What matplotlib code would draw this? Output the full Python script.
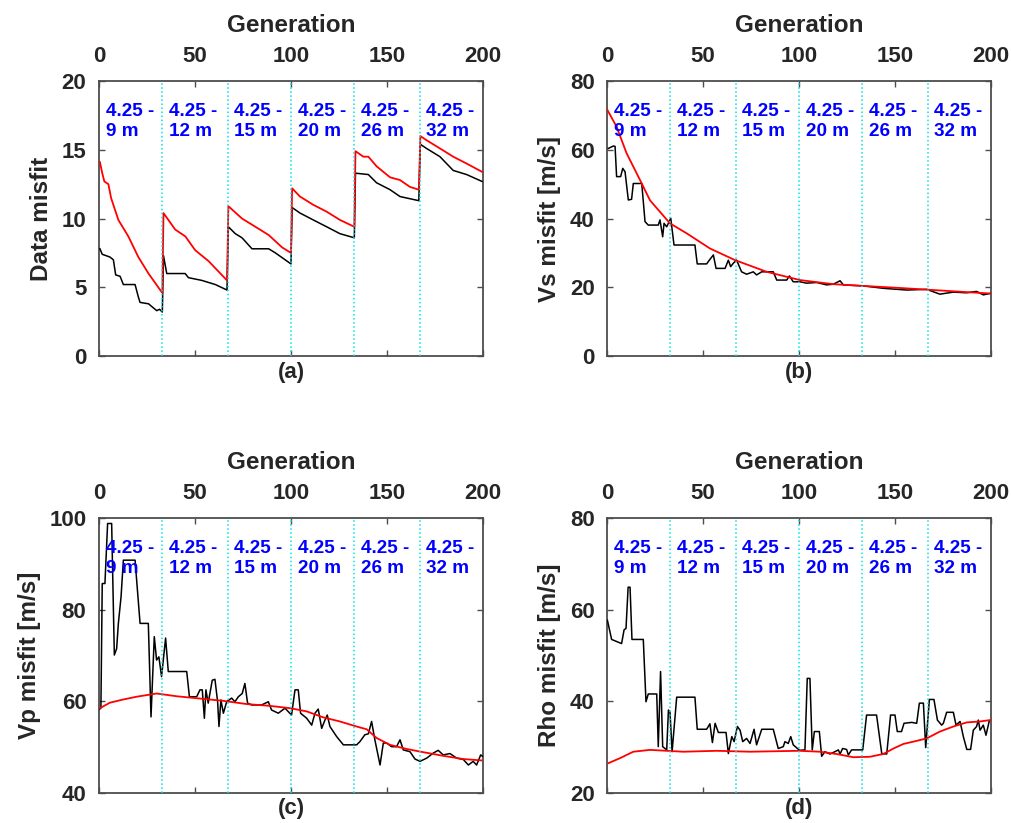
import matplotlib
matplotlib.use("Agg")
import matplotlib.pyplot as plt

plt.rcParams['font.family'] = ['Liberation Sans', 'DejaVu Sans']
plt.rcParams['font.weight'] = 'bold'

# boundaries between frequency stages (generation)
stage_gen = [0, 33, 67, 100, 133, 167]
stage_labels = ['4.25 -\n9 m', '4.25 -\n12 m', '4.25 -\n15 m',
                '4.25 -\n20 m', '4.25 -\n26 m', '4.25 -\n32 m']

# (a) data misfit
a_red_gen = [0.5, 1.7, 2.8, 4.9, 6.3, 10.1, 15.3, 20.5, 25.8, 31.9, 33.0,
             33.6, 39.7, 45.0, 50.1, 57.1, 66.7,
             67.4, 74.5, 81.5, 88.4, 95.4, 100.0,
             100.6, 104.7, 111.6, 118.6, 125.5, 133.0,
             133.6, 137.7, 140.3, 144.6, 151.6, 156.8, 162.0, 166.6,
             167.4, 170.6, 177.6, 184.5, 191.5, 199.5]
a_red_val = [14.1, 13.3, 12.7, 12.5, 11.5, 9.9, 8.7, 7.2, 6.0, 4.8, 4.6,
             10.4, 9.2, 8.7, 7.7, 6.9, 5.5,
             10.9, 10.0, 9.4, 8.8, 7.9, 7.5,
             12.2, 11.6, 11.0, 10.5, 9.9, 9.4,
             14.9, 14.5, 14.5, 13.8, 13.0, 12.8, 12.3, 12.1,
             16.0, 15.7, 15.1, 14.5, 14.0, 13.4]
a_blk_gen = [0.5, 1.7, 5.7, 7.5, 8.7, 11.0, 12.7, 18.8, 20.5, 21.4, 25.8, 27.5, 30.1, 31.5, 33.0,
             33.6, 35.3, 44.9, 46.6, 53.6, 60.6, 66.7,
             67.4, 71.0, 74.5, 79.7, 88.4, 91.9, 100.0,
             100.6, 104.7, 111.6, 118.6, 125.5, 133.0,
             133.6, 140.3, 144.6, 151.6, 156.8, 166.6,
             167.4, 170.6, 177.6, 184.5, 191.5, 199.5]
a_blk_val = [7.8, 7.4, 7.2, 7.0, 5.9, 5.8, 5.2, 5.2, 4.3, 3.9, 3.8, 3.6, 3.3, 3.4, 3.2,
             7.3, 6.0, 6.0, 5.7, 5.5, 5.2, 4.8,
             9.4, 8.9, 8.6, 7.8, 7.8, 7.5, 6.7,
             10.8, 10.4, 9.9, 9.4, 8.9, 8.6,
             13.3, 13.2, 12.6, 12.1, 11.6, 11.3,
             15.4, 15.1, 14.5, 13.5, 13.2, 12.7]

# (b) Vs misfit
b_red_gen = [0.2, 5.0, 10.2, 17.2, 22.4, 32.8, 41.5, 53.6, 66.7, 83.2, 100.5,
             117.9, 133.5, 152.6, 170.0, 187.3, 199.5]
b_red_val = [71.6, 66.7, 59.0, 51.2, 45.3, 38.6, 35.7, 31.3, 27.9, 24.5, 22.1,
             20.9, 20.4, 19.8, 19.2, 18.6, 18.2]
b_blk_gen = [0.7, 3.3, 4.2, 5.0, 7.1, 8.2, 9.4, 11.1, 12.8, 13.7, 18.1, 19.8, 21.5,
             26.7, 27.6, 29.0, 29.7, 31.1, 33.2, 34.9, 45.8, 47.0, 51.9, 53.3, 55.4,
             56.8, 61.5, 63.2, 64.4, 65.8, 67.5, 70.1, 72.7, 76.2, 77.9, 80.6, 86.6,
             88.4, 93.6, 95.0, 97.0, 100.5, 104.0, 109.2, 114.4, 117.9, 121.4, 123.1,
             133.5, 144.0, 156.1, 166.5, 173.4, 180.4, 187.3, 192.5, 196.0, 199.5]
b_blk_val = [60.4, 61.1, 61.0, 52.2, 52.2, 54.6, 53.6, 45.4, 45.6, 50.2, 50.2, 39.1, 38.1,
             38.1, 39.6, 34.7, 38.6, 37.6, 40.1, 32.3, 32.3, 26.8, 26.8, 27.9, 29.4,
             25.5, 25.5, 27.9, 26.0, 27.0, 27.9, 24.5, 23.8, 24.5, 23.6, 24.5, 24.5,
             22.1, 22.1, 23.3, 21.6, 21.6, 21.2, 21.4, 20.7, 20.9, 21.9, 20.7,
             20.4, 19.7, 19.2, 19.4, 18.0, 18.6, 18.4, 18.8, 17.8, 18.2]

# (c) Vp misfit
c_red_gen = [0.5, 5.7, 12.7, 19.6, 30.0, 40.5, 52.6, 64.8, 76.9, 89.1, 99.5, 108.2,
             116.8, 125.5, 134.2, 139.4, 144.6, 151.6, 160.2, 168.9, 179.3, 189.8, 199.3]
c_red_val = [58.5, 59.7, 60.4, 61.0, 61.7, 61.1, 60.6, 60.1, 59.4, 59.0, 58.5, 57.8,
             56.5, 55.6, 54.5, 53.9, 52.0, 50.5, 49.6, 48.9, 48.1, 47.4, 47.1]
c_blk_gen = [0.3, 1.0, 1.7, 3.1, 4.5, 6.6, 8.0, 9.2, 10.1, 11.5, 12.7, 18.8, 21.4, 25.7,
             27.1, 28.8, 30.0, 31.2, 32.6, 34.7, 36.1, 45.7, 47.1, 50.9, 52.6, 53.8,
             54.9, 55.7, 56.9, 59.0, 60.4, 61.8, 62.5, 63.5, 64.8, 66.5, 69.1, 70.8,
             72.6, 74.6, 76.0, 77.4, 79.5, 84.7, 88.2, 89.9, 93.4, 96.9, 100.3,
             102.1, 103.8, 105.0, 108.2, 110.8, 112.5, 114.2, 116.0, 117.7, 118.9,
             120.3, 123.8, 127.3, 134.2, 135.9, 138.5, 140.3, 142.0, 143.7, 146.4,
             148.1, 149.8, 152.4, 155.0, 156.8, 158.5, 162.0, 164.6, 167.2, 170.7,
             174.1, 176.7, 179.3, 182.8, 186.3, 189.8, 192.4, 194.9, 196.7, 198.8, 199.8]
c_blk_val = [58.3, 58.5, 85.7, 85.7, 98.8, 98.8, 70.1, 71.5, 77.0, 82.8, 90.8, 90.8, 77.0, 77.0,
             56.6, 74.1, 69.0, 69.7, 65.4, 73.8, 66.5, 66.5, 61.0, 61.0, 62.5, 62.5,
             56.3, 62.5, 59.6, 64.6, 64.8, 59.9, 54.5, 60.3, 57.4, 59.9, 60.7, 59.9,
             61.0, 61.7, 63.9, 59.6, 59.2, 59.2, 59.9, 58.1, 57.4, 58.5, 57.0,
             62.5, 62.5, 57.4, 56.3, 54.8, 57.4, 58.3, 54.1, 55.9, 57.0,
             54.5, 52.3, 50.5, 50.5, 51.2, 52.7, 52.9, 55.6, 51.6, 46.1,
             50.9, 50.9, 50.1, 50.1, 51.6, 49.4, 49.0, 47.4, 46.9, 47.6,
             48.7, 49.3, 48.3, 48.6, 47.6, 47.3, 46.1, 46.9, 46.1, 48.3, 48.0]

# (d) Rho misfit
d_red_gen = [0.7, 6.8, 13.7, 22.4, 39.8, 57.1, 74.5, 100.2, 110.9, 119.6, 128.3,
             137.0, 143.9, 149.2, 154.4, 159.6, 166.5, 173.4, 180.4, 187.4, 194.3, 199.5]
d_red_val = [26.5, 27.6, 29.0, 29.4, 29.0, 29.2, 29.0, 29.2, 29.0, 28.5, 27.8,
             27.9, 28.5, 29.7, 30.7, 31.2, 31.9, 33.4, 34.5, 35.4, 35.6, 35.9]
d_blk_gen = [0.2, 2.4, 7.6, 8.9, 9.9, 11.0, 12.0, 13.0, 18.9, 20.3, 21.5, 25.9, 26.7,
             27.9, 29.0, 31.1, 32.0, 32.8, 33.9, 36.3, 45.8, 47.0, 51.9, 53.6, 54.9,
             56.3, 58.0, 62.0, 63.2, 65.0, 66.2, 67.9, 69.3, 70.7, 72.7, 74.5, 76.6,
             77.9, 80.6, 86.6, 89.2, 91.8, 92.7, 94.4, 95.7, 97.0, 100.3,
             103.1, 104.3, 105.7, 106.9, 108.0, 110.6, 111.8, 113.5, 116.1, 118.7,
             120.5, 121.4, 122.7, 124.8, 125.7, 127.4, 133.2, 135.2, 140.4, 143.1,
             145.7, 147.7, 150.0, 151.2, 153.4, 154.7, 158.7, 161.3, 162.7, 164.8,
             166.0, 167.9, 170.3, 172.1, 174.3, 175.2, 176.9, 180.4, 181.8, 183.9,
             185.6, 187.4, 189.4, 190.8, 192.5, 193.4, 194.3, 196.0, 197.4, 199.1]
d_blk_val = [57.7, 53.5, 52.6, 55.6, 55.9, 64.9, 64.9, 53.5, 53.5, 39.9, 41.6, 41.6, 30.1,
             46.5, 30.1, 29.4, 38.1, 37.7, 29.0, 40.9, 40.9, 33.9, 33.9, 35.1, 31.0,
             35.2, 33.2, 33.2, 28.6, 32.3, 31.2, 34.5, 33.7, 31.2, 31.9, 30.8, 33.9,
             30.5, 33.9, 33.9, 29.7, 30.1, 31.2, 30.8, 32.3, 30.5, 29.3,
             29.4, 45.0, 45.0, 29.4, 33.4, 33.4, 28.0, 29.0, 28.5, 29.0,
             29.4, 28.5, 29.7, 29.5, 28.3, 29.4, 29.4, 37.0, 37.0, 28.6,
             28.5, 37.0, 37.0, 33.4, 33.4, 35.2, 35.4, 35.2, 39.6, 39.6,
             29.9, 40.4, 40.4, 35.9, 34.8, 35.2, 37.6, 37.6, 34.8, 35.6,
             32.3, 29.5, 29.5, 33.7, 34.5, 35.9, 33.7, 34.8, 32.6, 35.7]

panels = [
    ('Data misfit', (0, 20), [0, 5, 10, 15, 20], '(a)',
     a_blk_gen, a_blk_val, a_red_gen, a_red_val),
    ('Vs misfit [m/s]', (0, 80), [0, 20, 40, 60, 80], '(b)',
     b_blk_gen, b_blk_val, b_red_gen, b_red_val),
    ('Vp misfit [m/s]', (40, 100), [40, 60, 80, 100], '(c)',
     c_blk_gen, c_blk_val, c_red_gen, c_red_val),
    ('Rho misfit [m/s]', (20, 80), [20, 40, 60, 80], '(d)',
     d_blk_gen, d_blk_val, d_red_gen, d_red_val),
]

positions = [
    [0.0979, 0.5674, 0.3798, 0.3341],
    [0.6004, 0.5674, 0.3798, 0.3341],
    [0.0979, 0.0365, 0.3798, 0.3341],
    [0.6004, 0.0365, 0.3798, 0.3341],
]

fig = plt.figure(figsize=(10.11, 8.23), dpi=100)

for pos, (ylab, ylim, yticks, tag, bg, bv, rg, rv) in zip(positions, panels):
    ax = fig.add_axes(pos)
    ax.plot(bg, bv, color='black', lw=1.1, zorder=3)
    ax.plot(rg, rv, color='red', lw=1.3, zorder=4)
    for g in stage_gen[1:]:
        ax.axvline(g, color='#00e0f0', ls=':', lw=1.1, zorder=5)
    for g, lab in zip(stage_gen, stage_labels):
        ax.text(g + 3.5, 0.92, lab, transform=ax.get_xaxis_transform(),
                color='#0000ff', fontsize=13.6, fontweight='bold',
                ha='left', va='top', linespacing=1.2, zorder=6)

    ax.set_xlim(0, 200)
    ax.set_ylim(*ylim)
    ax.set_xticks([0, 50, 100, 150, 200])
    ax.set_yticks(yticks)
    ax.xaxis.set_label_position('top')
    ax.xaxis.tick_top()
    ax.tick_params(axis='both', which='both', direction='in', length=4,
                   width=1, colors='#4d4d4d', labelcolor='#262626',
                   labelsize=16, top=True, bottom=True, left=True, right=True)
    ax.tick_params(axis='x', pad=10)
    ax.tick_params(axis='y', pad=9)
    for lbl in ax.get_xticklabels() + ax.get_yticklabels():
        lbl.set_fontweight('bold')
    for sp in ax.spines.values():
        sp.set_color('#4d4d4d')
        sp.set_linewidth(1.3)
    ax.set_xlabel('Generation', fontsize=17.5, fontweight='bold',
                  color='#262626', labelpad=10)
    ax.set_ylabel(ylab, fontsize=17.5, fontweight='bold',
                  color='#262626', labelpad=6)
    ax.text(0.5, -0.02, tag, transform=ax.transAxes, ha='center', va='top',
            fontsize=16, fontweight='bold', color='#262626')

fig.savefig('out.png', dpi=100)
